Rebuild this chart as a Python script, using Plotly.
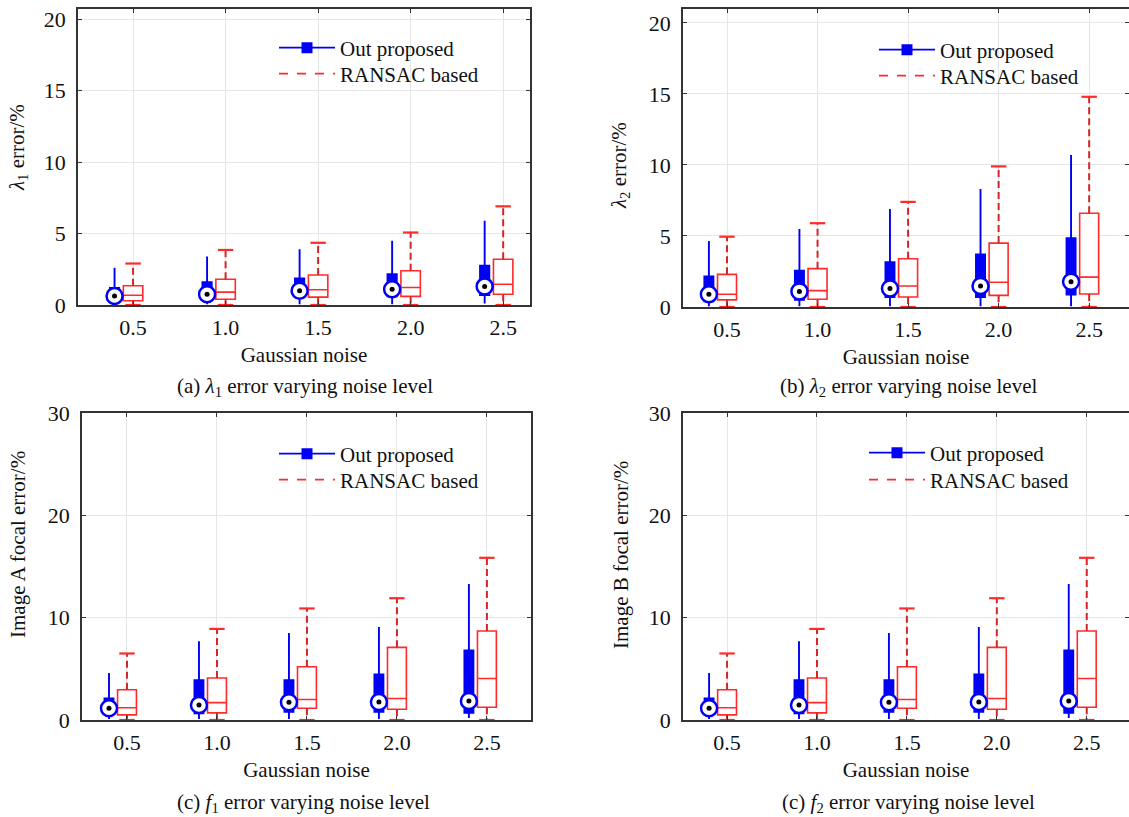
import numpy as np
import plotly.graph_objects as go

W, H = 1129, 817
FONT = "Liberation Serif"
TXT = 21
TICK = 22

noise_labels = ["0.5", "1.0", "1.5", "2.0", "2.5"]

# (a) lambda1 error
ours_l1_low = [0.05, 0.05, 0.05, 0.05, 0.1]
ours_l1_q1 = [0.3, 0.35, 0.55, 0.6, 0.7]
ours_l1_med = [0.63, 0.75, 1.0, 1.1, 1.3]
ours_l1_q3 = [1.2, 1.6, 1.85, 2.15, 2.75]
ours_l1_high = [2.6, 3.4, 3.9, 4.5, 5.9]
ransac_l1_low = [0, 0, 0, 0, 0]
ransac_l1_q1 = [0.3, 0.4, 0.55, 0.6, 0.75]
ransac_l1_med = [0.68, 0.9, 1.07, 1.22, 1.45]
ransac_l1_q3 = [1.35, 1.8, 2.1, 2.4, 3.2]
ransac_l1_high = [2.9, 3.85, 4.35, 5.07, 6.9]

# (b) lambda2 error
ours_l2_low = [0.05, 0.05, 0.05, 0.05, 0.05]
ours_l2_q1 = [0.4, 0.5, 0.7, 0.7, 0.87]
ours_l2_med = [0.9, 1.1, 1.3, 1.48, 1.78]
ours_l2_q3 = [2.15, 2.55, 3.15, 3.7, 4.85]
ours_l2_high = [4.65, 5.5, 6.9, 8.3, 10.7]
ransac_l2_low = [0, 0, 0, 0, 0]
ransac_l2_q1 = [0.5, 0.55, 0.7, 0.82, 0.92]
ransac_l2_med = [0.9, 1.15, 1.48, 1.74, 2.1]
ransac_l2_q3 = [2.3, 2.7, 3.4, 4.5, 6.6]
ransac_l2_high = [4.95, 5.9, 7.4, 9.9, 14.8]

# (c) f1 error
ours_f1_low = [0.1, 0.1, 0.1, 0.1, 0.2]
ours_f1_q1 = [0.6, 0.65, 0.8, 0.8, 0.7]
ours_f1_med = [1.15, 1.47, 1.73, 1.76, 1.86]
ours_f1_q3 = [2.1, 3.9, 3.9, 4.45, 6.8]
ours_f1_high = [4.6, 7.7, 8.5, 9.1, 13.3]
ransac_f1_low = [0, 0, 0, 0, 0]
ransac_f1_q1 = [0.5, 0.7, 1.15, 1.05, 1.25]
ransac_f1_med = [1.2, 1.7, 2.0, 2.1, 4.05]
ransac_f1_q3 = [2.95, 4.1, 5.2, 7.1, 8.7]
ransac_f1_high = [6.5, 8.9, 10.9, 11.9, 15.85]

# (d) f2 error
ours_f2_low = [0.1, 0.1, 0.1, 0.1, 0.2]
ours_f2_q1 = [0.6, 0.65, 0.8, 0.8, 0.7]
ours_f2_med = [1.15, 1.47, 1.73, 1.76, 1.86]
ours_f2_q3 = [2.1, 3.9, 3.9, 4.45, 6.8]
ours_f2_high = [4.6, 7.7, 8.5, 9.1, 13.3]
ransac_f2_low = [0, 0, 0, 0, 0]
ransac_f2_q1 = [0.5, 0.7, 1.15, 1.05, 1.25]
ransac_f2_med = [1.2, 1.7, 2.0, 2.1, 4.05]
ransac_f2_q3 = [2.95, 4.1, 5.2, 7.1, 8.7]
ransac_f2_high = [6.5, 8.9, 10.9, 11.9, 15.85]

BLUE = "#0000f5"
RED = "#ff2a2a"
RED_DARK = "#d42626"

panels = [
    dict(ours=(ours_l1_low, ours_l1_q1, ours_l1_med, ours_l1_q3, ours_l1_high),
         ransac=(ransac_l1_low, ransac_l1_q1, ransac_l1_med, ransac_l1_q3, ransac_l1_high),
         xdom=(78, 530), ydom=(9, 305), xrange=(0.405, 5.29), yrange=(0, 20.7), dtick=5,
         ytitle="<i>λ</i><sub>1</sub> error/%", ytitle_xy=(18, 148),
         caption="(a) <i>λ</i><sub>1</sub> error varying noise level",
         caption_xy=(305, 387), leg=(274, 48, 74)),
    dict(ours=(ours_l2_low, ours_l2_q1, ours_l2_med, ours_l2_q3, ours_l2_high),
         ransac=(ransac_l2_low, ransac_l2_q1, ransac_l2_med, ransac_l2_q3, ransac_l2_high),
         xdom=(683, 1129), ydom=(9, 307), xrange=(0.514, 5.44), yrange=(0, 20.98), dtick=5,
         ytitle="<i>λ</i><sub>2</sub> error/%", ytitle_xy=(620, 166),
         caption="(b) <i>λ</i><sub>2</sub> error varying noise level",
         caption_xy=(908, 387), leg=(874, 50, 76)),
    dict(ours=(ours_f1_low, ours_f1_q1, ours_f1_med, ours_f1_q3, ours_f1_high),
         ransac=(ransac_f1_low, ransac_f1_q1, ransac_f1_med, ransac_f1_q3, ransac_f1_high),
         xdom=(82, 531), ydom=(413, 720), xrange=(0.5, 5.49), yrange=(0, 30), dtick=10,
         ytitle="Image A focal error/%", ytitle_xy=(18, 545),
         caption="(c) <i>f</i><sub>1</sub> error varying noise level",
         caption_xy=(303, 803), leg=(274, 454, 480)),
    dict(ours=(ours_f2_low, ours_f2_q1, ours_f2_med, ours_f2_q3, ours_f2_high),
         ransac=(ransac_f2_low, ransac_f2_q1, ransac_f2_med, ransac_f2_q3, ransac_f2_high),
         xdom=(683, 1129), ydom=(413, 720), xrange=(0.51, 5.47), yrange=(0, 30), dtick=10,
         ytitle="Image B focal error/%", ytitle_xy=(621, 555),
         caption="(c) <i>f</i><sub>2</sub> error varying noise level",
         caption_xy=(908, 803), leg=(864, 453, 480)),
]

positions = np.arange(1, 6)
OURS_OFFSET = -0.2
OURS_WIDTH = 0.1
RANSAC_WIDTH = 0.21

fig = go.Figure()
layout_axes = {}
annotations = []
legends = {}

for i, p in enumerate(panels):
    n = "" if i == 0 else str(i + 1)
    xa, ya = "x" + n, "y" + n
    lo, q1, med, q3, hi = p["ours"]
    rlo, rq1, rmed, rq3, rhi = p["ransac"]
    leg_ours = "legend" + ("" if i == 0 else str(i + 1))
    leg_ransac = "legend" + str(i + 5)
    xo = positions + OURS_OFFSET

    # RANSAC dashed whiskers
    wx, wy = [], []
    for k in range(5):
        wx += [positions[k], positions[k], None, positions[k], positions[k], None]
        wy += [rq3[k], rhi[k], None, rq1[k], rlo[k], None]
    fig.add_trace(go.Scatter(x=wx, y=wy, xaxis=xa, yaxis=ya, mode="lines",
                             line=dict(color=RED_DARK, width=2, dash="7px,4px"),
                             showlegend=False, hoverinfo="skip"))
    # whisker caps
    fig.add_trace(go.Scatter(x=list(positions) * 2, y=list(rhi) + list(rlo), xaxis=xa, yaxis=ya,
                             mode="markers",
                             marker=dict(symbol="line-ew", size=11,
                                         line=dict(color=RED, width=2.2)),
                             showlegend=False, hoverinfo="skip"))
    # RANSAC boxes
    fig.add_trace(go.Box(x=positions, q1=rq1, median=rmed, q3=rq3,
                         lowerfence=rq1, upperfence=rq3, width=RANSAC_WIDTH,
                         xaxis=xa, yaxis=ya, fillcolor="rgba(255,255,255,0.9)",
                         line=dict(color=RED, width=1.6), whiskerwidth=0,
                         showlegend=False, hoverinfo="skip", name="RANSAC based"))
    # Ours boxes (compact style)
    fig.add_trace(go.Box(x=xo, q1=q1, median=med, q3=q3,
                         lowerfence=lo, upperfence=hi, width=OURS_WIDTH,
                         xaxis=xa, yaxis=ya, fillcolor=BLUE,
                         line=dict(color=BLUE, width=1.9), whiskerwidth=0,
                         showlegend=False, hoverinfo="skip", name="Out proposed"))
    # median markers
    fig.add_trace(go.Scatter(x=xo, y=med, xaxis=xa, yaxis=ya, mode="markers",
                             marker=dict(symbol="circle", size=16, color="white",
                                         line=dict(color=BLUE, width=2.5)),
                             showlegend=False, hoverinfo="skip"))
    fig.add_trace(go.Scatter(x=xo, y=med, xaxis=xa, yaxis=ya, mode="markers",
                             marker=dict(symbol="circle", size=5, color="black"),
                             showlegend=False, hoverinfo="skip"))
    # legend entries
    fig.add_trace(go.Scatter(x=[None], y=[None], xaxis=xa, yaxis=ya, mode="lines+markers",
                             name="Out proposed", legend=leg_ours,
                             line=dict(color=BLUE, width=1.6),
                             marker=dict(symbol="square", size=11, color=BLUE)))
    fig.add_trace(go.Scatter(x=[None], y=[None], xaxis=xa, yaxis=ya, mode="lines",
                             name="RANSAC based", legend=leg_ransac,
                             line=dict(color=RED, width=1.6, dash="dash")))

    lx, ly1, ly2 = p["leg"]
    for name, yy in ((leg_ours, ly1), (leg_ransac, ly2)):
        legends[name] = dict(x=lx / W, y=1 - yy / H, xanchor="left", yanchor="middle",
                             bgcolor="rgba(0,0,0,0)",
                             font=dict(family=FONT, size=TXT, color="#111"),
                             itemwidth=56)

    common = dict(showline=True, linecolor="#333", linewidth=1.5, mirror="ticks",
                  ticks="inside", ticklen=4, tickcolor="#333",
                  showgrid=True, gridcolor="#e6e6e6", gridwidth=1, zeroline=False,
                  automargin=False,
                  tickfont=dict(family=FONT, size=TICK, color="#111"))
    layout_axes["xaxis" + n] = dict(common, domain=[p["xdom"][0] / W, p["xdom"][1] / W],
                                    range=list(p["xrange"]), anchor=ya,
                                    tickmode="array", tickvals=list(positions),
                                    ticktext=noise_labels, ticklabelstandoff=2,
                                    title=dict(text="Gaussian noise", standoff=8,
                                               font=dict(family=FONT, size=TXT, color="#111")))
    layout_axes["yaxis" + n] = dict(common, domain=[1 - p["ydom"][1] / H, 1 - p["ydom"][0] / H],
                                    range=list(p["yrange"]), anchor=xa, dtick=p["dtick"],
                                    tick0=0, ticklabelstandoff=6)

    annotations.append(dict(text=p["ytitle"], x=p["ytitle_xy"][0] / W, y=1 - p["ytitle_xy"][1] / H,
                            xref="paper", yref="paper", showarrow=False, textangle=-90,
                            xanchor="center", yanchor="middle",
                            font=dict(family=FONT, size=TXT, color="#111")))
    annotations.append(dict(text=p["caption"], x=p["caption_xy"][0] / W, y=1 - p["caption_xy"][1] / H,
                            xref="paper", yref="paper", showarrow=False,
                            xanchor="center", yanchor="middle",
                            font=dict(family=FONT, size=TXT, color="#111")))

fig.update_layout(width=W, height=H,
                  margin=dict(l=0, r=0, t=0, b=0, pad=0, autoexpand=False),
                  font=dict(family=FONT, size=TXT, color="#111"),
                  paper_bgcolor="white", plot_bgcolor="white",
                  boxmode="overlay", annotations=annotations,
                  **layout_axes, **legends)

PAGE_FIX = (
    "var d=document.documentElement,b=document.body;"
    "d.style.margin='0';d.style.padding='0';d.style.overflow='hidden';"
    "b.style.margin='0';b.style.padding='0';b.style.overflow='hidden';"
    "var g=document.getElementsByClassName('plotly-graph-div')[0];"
    "if(g){g.style.position='fixed';g.style.left='0px';g.style.top='0px';}"
)

fig.write_html("out.html", config={"displayModeBar": False}, post_script=PAGE_FIX)
